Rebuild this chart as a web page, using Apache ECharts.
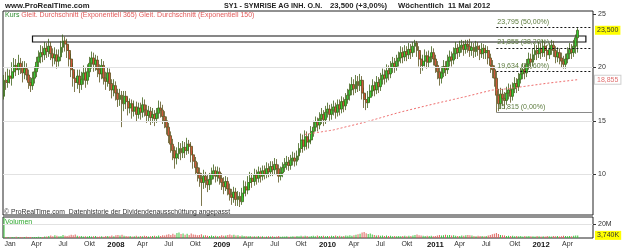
<!DOCTYPE html>
<html><head><meta charset="utf-8">
<script src="https://cdn.jsdelivr.net/npm/echarts@6/dist/echarts.min.js"></script>
<style>html,body{margin:0;padding:0;background:#fff}#c{width:625px;height:250px}</style>
</head><body><div id="c"></div>
<script>
// ---- data (weekly, first week ending 2006-12-15, last 2012-05-11) ----
const firstWeek = [2006, 11, 15];
const futureWeeks = 7;
const open = [
17.3,18.8,18.6,19.2,19.0,19.6,20.2,19.8,20.4,20.0,
19.5,19.9,19.3,18.6,18.3,19.0,19.6,20.5,21.0,21.4,
21.2,21.8,21.5,22.0,21.3,20.9,21.2,20.6,21.0,21.9,
22.5,22.2,21.6,20.8,19.8,19.0,18.6,19.2,18.4,18.9,
19.5,18.8,19.6,20.4,20.9,20.3,20.7,19.8,19.4,20.2,
19.0,18.7,19.5,18.5,17.9,18.3,17.6,17.0,17.4,16.6,
17.3,16.8,16.2,16.6,15.9,16.3,15.6,16.2,15.8,16.5,
16.0,15.5,15.9,15.3,15.6,15.2,15.7,16.2,16.0,15.4,
15.0,14.4,13.6,12.8,12.2,11.5,11.9,12.4,12.0,12.5,
12.2,12.8,12.6,11.8,11.2,10.6,10.1,9.6,9.2,9.8,
9.4,9.0,9.5,10.0,10.3,9.8,10.2,9.6,9.2,8.8,
9.3,8.6,8.1,7.8,8.3,7.6,7.9,7.4,8.2,8.8,
8.5,9.2,9.6,9.3,9.9,9.6,10.2,9.8,10.3,10.0,
10.5,10.2,10.7,10.4,10.9,10.5,9.8,10.1,10.6,10.9,
11.1,10.8,11.3,11.5,11.2,11.7,12.4,13.2,12.6,13.5,
13.0,13.2,14.0,14.4,14.9,14.6,15.2,15.6,15.1,15.8,
16.1,15.6,16.0,16.3,15.8,16.5,16.1,16.8,16.4,17.0,
17.4,17.9,18.4,18.0,18.7,18.3,18.8,17.6,17.0,16.7,
17.2,17.8,18.3,17.9,18.6,18.2,18.9,19.3,19.0,19.7,
19.4,20.0,20.4,20.1,20.6,20.9,21.4,21.0,21.5,21.2,
21.7,21.4,22.0,22.3,21.6,20.8,20.2,20.6,21.1,20.5,
21.0,21.4,20.8,20.2,19.6,19.0,19.5,20.1,19.8,20.6,
21.0,20.7,21.3,21.8,21.4,21.9,22.1,21.7,22.2,22.0,
21.6,21.9,21.5,22.0,21.7,21.3,21.8,21.4,21.6,20.9,
20.2,19.8,19.0,17.4,16.6,17.5,17.1,16.9,17.6,17.9,
17.3,18.0,18.5,18.2,18.9,19.4,19.8,19.5,20.3,20.8,
20.5,21.2,21.6,21.3,21.8,21.4,22.0,21.6,21.2,21.7,
22.1,21.6,21.0,21.4,20.9,20.6,20.3,20.8,21.3,21.7,
21.4,22.0,22.8];
const close = [
18.8,18.6,19.2,19.0,19.6,20.2,19.8,20.4,20.0,19.5,
19.9,19.3,18.6,18.3,19.0,19.6,20.5,21.0,21.4,21.2,
21.8,21.5,22.0,21.3,20.9,21.2,20.6,21.0,21.9,22.5,
22.2,21.6,20.8,19.8,19.0,18.6,19.2,18.4,18.9,19.5,
18.8,19.6,20.4,20.9,20.3,20.7,19.8,19.4,20.2,19.0,
18.7,19.5,18.5,17.9,18.3,17.6,17.0,17.4,16.6,17.3,
16.8,16.2,16.6,15.9,16.3,15.6,16.2,15.8,16.5,16.0,
15.5,15.9,15.3,15.6,15.2,15.7,16.2,16.0,15.4,15.0,
14.4,13.6,12.8,12.2,11.5,11.9,12.4,12.0,12.5,12.2,
12.8,12.6,11.8,11.2,10.6,10.1,9.6,9.2,9.8,9.4,
9.0,9.5,10.0,10.3,9.8,10.2,9.6,9.2,8.8,9.3,
8.6,8.1,7.8,8.3,7.6,7.9,7.4,8.2,8.8,8.5,
9.2,9.6,9.3,9.9,9.6,10.2,9.8,10.3,10.0,10.5,
10.2,10.7,10.4,10.9,10.5,9.8,10.1,10.6,10.9,11.1,
10.8,11.3,11.5,11.2,11.7,12.4,13.2,12.6,13.5,13.0,
13.2,14.0,14.4,14.9,14.6,15.2,15.6,15.1,15.8,16.1,
15.6,16.0,16.3,15.8,16.5,16.1,16.8,16.4,17.0,17.4,
17.9,18.4,18.0,18.7,18.3,18.8,17.6,17.0,16.7,17.2,
17.8,18.3,17.9,18.6,18.2,18.9,19.3,19.0,19.7,19.4,
20.0,20.4,20.1,20.6,20.9,21.4,21.0,21.5,21.2,21.7,
21.4,22.0,22.3,21.6,20.8,20.2,20.6,21.1,20.5,21.0,
21.4,20.8,20.2,19.6,19.0,19.5,20.1,19.8,20.6,21.0,
20.7,21.3,21.8,21.4,21.9,22.1,21.7,22.2,22.0,21.6,
21.9,21.5,22.0,21.7,21.3,21.8,21.4,21.6,20.9,20.2,
19.8,19.0,17.4,16.6,17.5,17.1,16.9,17.6,17.9,17.3,
18.0,18.5,18.2,18.9,19.4,19.8,19.5,20.3,20.8,20.5,
21.2,21.6,21.3,21.8,21.4,22.0,21.6,21.2,21.7,22.1,
21.6,21.0,21.4,20.9,20.6,20.3,20.8,21.3,21.7,21.4,
22.0,22.8,23.5];
const low = [
17.0,17.9,18.1,18.5,18.3,19.1,19.2,19.3,19.4,18.6,
18.9,18.8,18.0,17.7,17.9,18.5,19.1,19.9,20.4,20.5,
20.7,20.9,21.0,20.7,20.1,20.3,19.9,20.1,20.6,21.4,
21.5,20.9,20.1,19.1,18.2,17.7,18.0,17.6,17.9,18.4,
18.1,18.4,19.1,19.9,19.6,19.7,19.1,18.6,18.9,18.4,
17.9,18.2,17.8,17.1,17.3,16.9,16.3,16.4,14.4,15.9,
16.1,15.5,15.7,15.2,15.4,14.9,15.2,15.1,15.3,15.4,
14.8,14.9,14.6,14.8,14.5,14.8,15.2,15.3,14.7,14.3,
13.7,12.9,12.0,11.3,10.5,10.9,11.4,11.3,11.5,11.5,
11.8,11.9,11.1,10.5,9.9,9.3,8.8,7.0,8.6,8.7,
8.3,8.5,9.0,9.5,9.2,9.3,9.0,8.5,8.1,8.4,
8.0,7.5,7.1,7.3,7.0,7.0,6.9,7.1,7.8,7.9,
8.1,8.7,8.7,8.9,9.0,9.2,9.2,9.4,9.5,9.6,
9.7,9.8,9.8,10.0,9.9,9.2,9.4,9.7,10.2,10.4,
10.3,10.4,10.8,10.7,10.8,11.3,12.0,12.0,12.2,12.3,
12.4,12.8,13.5,14.0,14.0,14.2,14.7,14.5,14.7,15.3,
15.0,15.1,15.5,15.2,15.4,15.5,15.7,15.8,16.0,16.6,
16.9,17.4,17.4,17.6,17.7,17.8,17.0,16.2,16.0,16.2,
16.8,17.3,17.3,17.5,17.6,17.8,18.4,18.4,18.6,18.8,
19.0,19.5,19.5,19.7,20.1,20.4,20.4,20.6,20.6,20.8,
20.8,21.0,21.4,21.0,20.1,19.4,19.7,20.1,19.9,20.0,
20.5,20.2,19.5,18.9,18.3,18.5,19.1,19.2,19.4,20.1,
20.1,20.3,20.8,20.8,21.0,21.4,21.1,21.3,21.4,21.0,
21.1,20.9,21.0,21.1,20.7,20.9,20.8,20.8,20.3,19.5,
19.0,18.2,15.8,15.9,16.1,16.4,16.1,16.5,17.0,16.7,
16.9,17.6,17.6,17.8,18.5,18.9,18.9,19.1,19.8,19.9,
20.1,20.7,20.7,20.9,20.8,21.0,21.0,20.6,20.8,21.2,
21.0,20.4,20.5,20.3,20.0,19.9,19.9,20.4,20.8,20.8,
21.0,21.3,21.4];
const high = [
19.3,19.6,19.9,19.8,20.5,20.9,20.8,21.2,20.9,20.6,
20.6,20.4,19.8,19.1,19.6,20.1,21.0,21.6,22.1,22.0,
22.4,22.3,22.7,22.4,21.8,21.9,21.7,21.7,22.5,23.1,
22.9,22.7,22.1,21.3,20.4,19.6,19.8,19.8,19.6,20.2,
20.0,20.3,21.0,21.5,21.4,21.2,21.1,20.3,20.8,20.6,
19.6,20.0,19.9,18.9,18.9,18.7,18.0,18.0,17.8,17.8,
17.8,17.2,17.1,17.0,16.9,16.8,16.7,16.7,17.2,17.0,
16.5,16.4,16.3,16.2,16.0,16.2,16.9,16.8,16.5,15.9,
15.4,14.8,14.0,13.3,12.6,12.5,13.0,12.9,13.1,13.0,
13.4,13.2,13.0,12.2,11.6,11.1,10.6,10.1,10.4,10.2,
9.9,10.1,10.6,10.9,10.7,10.7,10.6,10.1,9.7,9.8,
9.7,9.1,8.6,8.8,8.7,8.4,8.3,8.7,9.4,9.3,
9.8,10.2,10.1,10.5,10.4,10.7,10.6,10.8,10.8,11.1,
11.0,11.2,11.2,11.5,11.4,10.9,10.7,11.1,11.5,11.7,
11.6,11.8,12.1,12.0,12.2,12.9,13.8,13.7,14.1,14.0,
13.8,14.5,15.0,15.4,15.3,15.8,16.2,16.0,16.4,16.7,
16.5,16.6,16.9,16.7,17.0,17.0,17.3,17.2,17.6,18.0,
18.5,19.1,18.9,19.3,19.2,19.4,19.2,18.1,17.5,17.8,
18.4,18.9,18.7,19.2,19.1,19.5,19.9,19.8,20.3,20.2,
20.6,21.0,20.9,21.2,21.5,22.0,21.9,22.1,22.0,22.3,
22.2,22.4,22.6,22.5,22.0,21.2,21.2,21.7,21.5,21.6,
22.0,21.8,21.2,20.6,20.0,20.1,20.7,20.6,21.2,21.6,
21.5,21.9,22.4,22.2,22.5,22.6,22.5,22.6,22.6,22.7,
22.4,22.3,22.5,22.4,22.1,22.3,22.2,22.1,22.0,21.3,
20.7,20.2,19.6,18.0,18.1,18.0,17.7,18.2,18.5,18.4,
18.6,19.1,19.0,19.5,20.0,20.4,20.3,20.8,21.4,21.3,
21.8,22.2,22.1,22.4,22.3,22.6,22.4,22.1,22.3,22.6,
22.5,22.0,21.9,21.8,21.4,21.1,21.3,21.9,22.3,22.2,
22.6,23.1,23.7];
const volumeM = [
29,
1.3,1.6,1.1,1.4,1.2,1.7,1.3,1.5,1.1,1.4,
1.9,1.3,1.6,1.2,1.5,1.4,1.8,1.3,1.6,2.0,
2.2,2.8,3.6,2.6,3.9,3.2,2.4,3.0,4.2,3.1,
2.8,3.5,4.6,4.0,5.1,3.3,2.5,2.9,2.1,2.6,
2.2,2.8,2.0,2.4,2.7,1.8,2.1,2.5,1.9,2.7,
3.0,2.4,3.4,2.6,3.8,4.3,3.5,4.8,3.2,2.8,
2.5,2.9,2.2,2.6,3.1,2.3,2.8,2.4,3.2,2.7,
2.1,2.5,2.9,3.3,2.6,3.6,3.0,3.9,3.4,4.5,
5.3,4.2,6.0,4.6,7.2,8.0,5.6,6.4,4.8,5.9,
4.3,6.6,5.0,4.7,3.9,4.4,5.2,3.6,4.0,3.3,
2.7,3.4,2.9,3.2,2.5,3.0,3.8,3.1,3.5,4.4,
4.9,3.8,4.6,3.4,3.9,2.9,3.4,2.7,3.0,2.4,
2.8,2.2,2.6,2.3,2.9,2.0,2.5,1.9,2.3,2.6,
2.0,2.4,1.8,2.2,2.7,1.9,2.3,2.0,2.5,1.8,
2.2,2.6,2.0,2.8,2.4,3.1,2.6,3.3,2.7,2.3,
2.9,3.2,2.6,3.5,3.0,2.7,3.3,2.4,3.0,2.6,
3.1,2.7,3.4,2.8,3.2,2.5,3.0,3.6,3.1,3.8,
3.3,4.1,4.6,5.4,6.2,7.8,8.4,6.9,5.7,6.3,
5.0,4.2,3.6,4.0,3.3,3.7,3.0,3.4,2.8,3.2,
2.6,3.0,2.5,2.9,2.4,2.8,3.1,2.6,3.3,3.0,
3.5,4.4,4.9,4.1,3.6,3.2,2.8,3.3,2.7,3.1,
2.6,3.0,3.5,4.2,3.7,4.0,4.5,3.8,4.3,3.6,
3.9,3.3,3.0,2.8,3.4,3.1,3.8,4.2,3.9,3.5,
3.0,2.6,3.1,2.7,2.9,2.5,3.0,3.6,4.4,5.2,
6.1,7.0,5.6,4.3,3.8,3.4,3.0,3.3,2.8,3.1,
2.6,2.9,2.4,2.8,2.3,2.7,2.5,2.9,2.4,2.6,
2.2,2.7,2.5,2.1,2.6,2.3,2.8,2.4,2.2,2.7,
2.5,2.9,2.3,2.6,3.1,2.7,2.4,2.8,2.5,3.2,
3.5,3.74];
const ema150Start = 148;
const ema150 = [
13.72,
13.75,13.78,13.81,13.84,13.87,13.90,13.93,13.96,13.99,14.02,14.05,14.08,14.11,
14.14,14.19,14.24,14.29,14.33,14.38,14.43,14.47,14.52,14.57,14.61,14.66,14.71,14.75,14.80,14.85,
14.90,14.95,15.00,15.06,15.11,15.17,15.22,15.28,15.33,15.39,15.44,15.50,15.55,15.61,15.66,15.72,15.77,
15.82,15.87,15.92,15.96,16.01,16.06,16.10,16.15,16.20,16.24,16.29,16.34,16.38,16.43,16.48,16.52,
16.57,16.61,16.66,16.70,16.75,16.79,16.83,16.88,16.92,16.97,17.01,17.05,17.10,17.14,17.19,17.23,17.27,
17.32,17.37,17.42,17.46,17.51,17.56,17.61,17.65,17.70,17.75,17.79,17.84,17.88,
17.90,17.91,17.92,17.94,17.96,17.98,18.00,18.02,18.05,18.07,18.10,18.12,18.15,
18.18,18.21,18.23,18.26,18.29,18.31,18.34,18.37,18.39,18.42,18.45,18.47,18.50,18.52,
18.55,18.57,18.59,18.62,18.64,18.66,18.68,18.71,18.73,18.75,18.77,18.80,18.82,18.84,18.855];
const yTicks = [10, 15, 20, 25];
const yGridLines = [10, 15, 20];
const lastPrice = 23.5, lastPriceText = '23,500';
const emaLast = 18.855, emaLastText = '18,855';
const volTicks = [20e6], volTickText = ['20M'];
const lastVol = 3.74e6, lastVolText = '3,740K';
const fibLevels = [23.795, 21.855, 19.634, 15.815];
const fibPct = ['50,00%', '38,20%', '23,60%', '0,00%'];
const fibLevelText = ['23,795', '21,855', '19,634', '15,815'];
const fibStartIdx = 242;
const boxIdx = [14, 286], boxPrice = [22.40, 22.96];
const monthLabels = ['Jan', 'Apr', 'Jul', 'Okt'];

// ---- build ----
const FONT = 'Liberation Sans, Arial, sans-serif';
const nCat = close.length + futureWeeks;
const t0 = Date.UTC(firstWeek[0], firstWeek[1], firstWeek[2]);
const dates = [];
for (let i = 0; i < nCat; i++) dates.push(new Date(t0 + i * 7 * 86400000).toISOString().slice(0, 10));
const lastCat = nCat - 1;

const candles = close.map((c, i) => [open[i], c, low[i], high[i]]);
const emaFull = dates.map((d, i) => (i >= ema150Start && i - ema150Start < ema150.length) ? ema150[i - ema150Start] : null);
const volData = volumeM.map((v, i) => ({
  value: v * 1e6,
  itemStyle: { color: close[i] >= open[i] ? '#3cc43c' : '#e0605a' }
}));

const isLabelWeek = (value) => {
  const d = new Date(value + 'T00:00:00Z');
  return d.getUTCMonth() % 3 === 0 && d.getUTCDate() <= 7;
};

const chart = echarts.init(document.getElementById('c'), null, { renderer: 'canvas' });
const fibLine = fibLevels.map((lv, k) => [
  { coord: [fibStartIdx, lv],
    lineStyle: k === 3 ? { color: '#8a8a8a', type: 'solid', width: 1 } : { color: '#111', type: [2, 2], width: 1 },
    label: { show: true, formatter: fibLevelText[k] + ' (' + fibPct[k] + ')', position: 'insideStartTop',
      distance: [1, 2], color: '#5b7a3c', fontSize: 7, fontFamily: FONT } },
  { coord: [lastCat, lv] }
]);
const T = (fs, w, c) => ({ fontSize: fs, fontWeight: w, color: c, fontFamily: FONT, lineHeight: fs + 2 });

chart.setOption({
  animation: false,
  backgroundColor: '#fff',
  title: [
    { text: 'www.ProRealTime.com', left: 5, top: 1, padding: 0, textStyle: T(7.7, 'bold', '#222') },
    { text: 'SY1 - SYMRISE AG INH. O.N.', left: 224, top: 1, padding: 0, textStyle: T(7.2, 'bold', '#222') },
    { text: '23,500 (+3,00%)', left: 330, top: 1, padding: 0, textStyle: T(7.7, 'bold', '#222') },
    { text: 'Wöchentlich  11 Mai 2012', left: 398, top: 1, padding: 0, textStyle: T(7.7, 'bold', '#222') },
    { text: '{g|Kurs} {r|Gleit. Durchschnitt (Exponentiell 365)} {r|Gleit. Durchschnitt (Exponentiell 150)}', left: 5, top: 11.5, padding: 0,
      textStyle: { fontWeight: 'normal', fontSize: 7, fontFamily: FONT,
        rich: { g: { color: '#2e8b2e', fontSize: 7, fontWeight: 'normal', fontFamily: FONT },
                r: { color: '#e05a5a', fontSize: 7, fontWeight: 'normal', fontFamily: FONT } } } },
    { text: '© ProRealTime.com  Datenhistorie der Dividendenausschüttung angepasst', left: 4, top: 207.5, padding: 0, textStyle: T(6.8, 'normal', '#333') },
    { text: 'Volumen', left: 5, top: 218, padding: 0, textStyle: T(7, 'normal', '#2ea82e') }
  ],
  grid: [
    { left: 3, right: 32, top: 11, bottom: 35, show: true, borderColor: '#222', borderWidth: 1, backgroundColor: 'transparent' },
    { left: 3, right: 32, top: 217, bottom: 12, show: true, borderColor: '#222', borderWidth: 1, backgroundColor: 'transparent' }
  ],
  xAxis: [
    { type: 'category', gridIndex: 0, data: dates, boundaryGap: true,
      axisLine: { show: false }, axisTick: { show: false }, axisLabel: { show: false }, splitLine: { show: false } },
    { type: 'category', gridIndex: 1, data: dates, boundaryGap: true,
      axisLine: { show: false }, axisTick: { show: false }, splitLine: { show: false },
      axisLabel: { show: true, margin: 3, interval: (idx, value) => isLabelWeek(value),
        formatter: (value) => {
          const d = new Date(value + 'T00:00:00Z');
          const m = d.getUTCMonth(), y = d.getUTCFullYear();
          if (m === 0 && y > 2007) return '{y|' + y + '}';
          return '{m|' + monthLabels[m / 3] + '}';
        },
        rich: { m: { fontSize: 7, color: '#333', fontFamily: FONT }, y: { fontSize: 7.7, fontWeight: 'bold', color: '#111', fontFamily: FONT } } } }
  ],
  yAxis: [
    { type: 'value', gridIndex: 0, position: 'right', min: 6.15, max: 25.31, scale: true,
      axisLine: { show: false }, splitLine: { show: false },
      axisTick: { show: true, inside: false, length: 3, lineStyle: { color: '#333' }, customValues: yTicks },
      axisLabel: { show: true, margin: 2, customValues: yTicks.concat([lastPrice, emaLast]),
        formatter: (v) => {
          if (Math.abs(v - lastPrice) < 1e-9) return '{cur|' + lastPriceText + '}';
          if (Math.abs(v - emaLast) < 1e-9) return '{ma|' + emaLastText + '}';
          return '{n|' + v + '}';
        },
        rich: {
          n: { fontSize: 7, color: '#333', fontFamily: FONT, padding: [0, 0, 0, 3] },
          cur: { fontSize: 7, color: '#333', fontFamily: FONT, backgroundColor: '#ffff00', padding: [1, 2, 1, 2] },
          ma: { fontSize: 7, color: '#e07272', fontFamily: FONT, backgroundColor: '#fff', borderColor: '#cfcfcf', borderWidth: 1, padding: [1, 2, 0, 2] }
        } } },
    { type: 'value', gridIndex: 1, position: 'right', min: 0, max: 30e6,
      axisLine: { show: false }, splitLine: { show: false },
      axisTick: { show: true, length: 3, lineStyle: { color: '#333' }, customValues: volTicks },
      axisLabel: { show: true, margin: 2, customValues: volTicks.concat([lastVol]),
        formatter: (v) => {
          if (Math.abs(v - lastVol) < 1) return '{cur|' + lastVolText + '}';
          return '{n|' + volTickText[volTicks.indexOf(v)] + '}';
        },
        rich: {
          n: { fontSize: 7, color: '#333', fontFamily: FONT, padding: [0, 0, 0, 3] },
          cur: { fontSize: 7, color: '#333', fontFamily: FONT, backgroundColor: '#ffff00', padding: [1, 2, 1, 2] }
        } } }
  ],
  series: [
    { type: 'line', name: 'grid', xAxisIndex: 0, yAxisIndex: 0, data: [], z: 0, silent: true,
      markLine: { silent: true, symbol: 'none', animation: false, label: { show: false },
        lineStyle: { color: '#e2e2e2', type: 'solid', width: 1 }, data: yGridLines.map(v => ({ yAxis: v })) } },
    { type: 'line', name: 'vgrid', xAxisIndex: 1, yAxisIndex: 1, data: [], z: 0, silent: true,
      markLine: { silent: true, symbol: 'none', animation: false, label: { show: false },
        lineStyle: { color: '#e2e2e2', type: 'solid', width: 1 }, data: volTicks.map(v => ({ yAxis: v })) } },
    { type: 'candlestick', name: 'Kurs', xAxisIndex: 0, yAxisIndex: 0, data: candles, barWidth: 2.4, z: 2,
      itemStyle: { color: '#33cc33', color0: '#d0583c', borderColor: '#3f621a', borderColor0: '#5c5420', borderWidth: 0.8 },
      markArea: { silent: true, animation: false,
        itemStyle: { color: 'rgba(255,255,255,0.55)', borderColor: '#111', borderWidth: 1.2 },
        data: [[{ coord: [boxIdx[0], boxPrice[0]] }, { coord: [boxIdx[1], boxPrice[1]] }]] } },
    { type: 'line', name: 'EMA150', xAxisIndex: 0, yAxisIndex: 0, data: emaFull, z: 3, showSymbol: false, symbol: 'none',
      lineStyle: { color: '#ee6a6a', width: 1, type: [2, 2] }, connectNulls: false },
    { type: 'line', name: 'fib', xAxisIndex: 0, yAxisIndex: 0, data: [], z: 4, silent: true,
      markLine: { silent: true, symbol: 'none', animation: false, data: fibLine } },
    { type: 'bar', name: 'Volumen', xAxisIndex: 1, yAxisIndex: 1, data: volData, barWidth: 1, z: 2 }
  ]
});
</script>
</body></html>
